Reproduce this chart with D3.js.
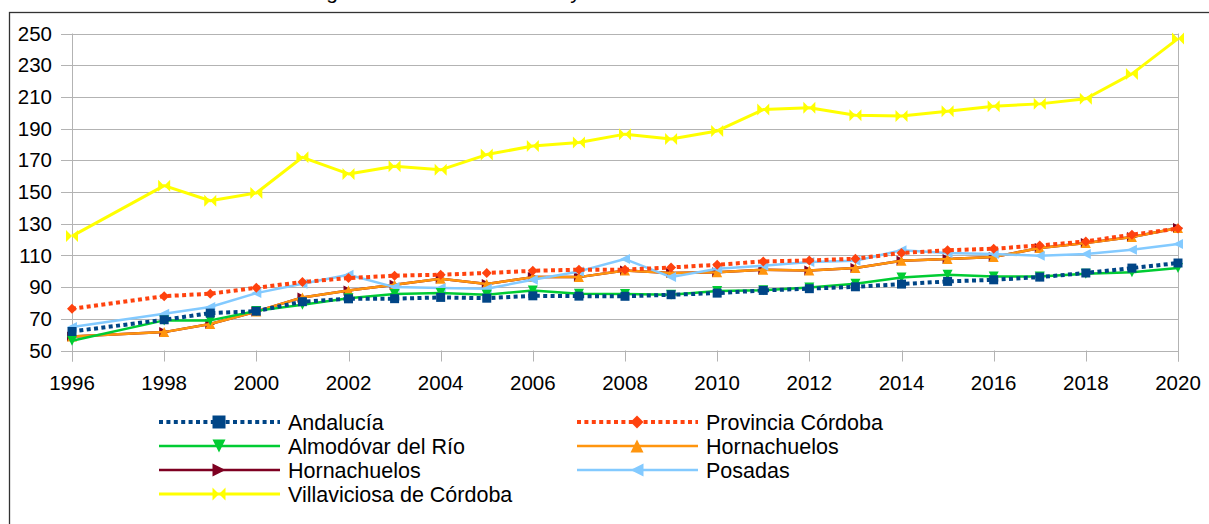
<!DOCTYPE html>
<html>
<head>
<meta charset="utf-8">
<script src="https://cdn.jsdelivr.net/npm/d3@7"></script>
<style>
  body { margin: 0; background: #fff; }
  svg { display: block; font-family: "Liberation Sans", Arial, sans-serif; }
</style>
</head>
<body>
<div id="chart"></div>
<script>
// years with data (1997 missing)
var years = [1996, 1998, 1999, 2000, 2001, 2002, 2003, 2004, 2005, 2006, 2007, 2008,
             2009, 2010, 2011, 2012, 2013, 2014, 2015, 2016, 2017, 2018, 2019, 2020];

var andalucia    = [62, 69.4, 73.6, 74.8, 80.8, 82.6, 82.7, 83.5, 83, 84.5, 84.3, 84.2,
                    85.2, 86.2, 87.9, 89, 90.2, 91.9, 93.6, 94.6, 96.3, 98.9, 102, 105.2];
var provincia    = [76.3, 84.3, 85.8, 89.6, 93.2, 95.7, 97.2, 97.8, 98.9, 100.3, 101, 101,
                    102.4, 104.1, 106.2, 106.8, 107.9, 111.5, 113.2, 114.2, 116.3, 118.8, 123.1, 126.9];
var almodovar    = [56.1, 69, 69, 75, 78.9, 83, 85.6, 86.2, 85.2, 87.9, 85.8, 85.6,
                    85.2, 87.5, 88, 89.8, 92.1, 96.1, 97.8, 96.7, 96.7, 98.4, 99.3, 102];
var hornachuelos = [58.8, 61.6, 66.7, 74.6, 83.5, 87.9, 91.5, 95.3, 91.9, 96.3, 96.3, 100.5,
                    98.9, 99.3, 101, 100.5, 102, 106.6, 107.7, 109, 114.7, 117.8, 121.6, 127.3];
var posadas      = [64.8, 73.2, 77.4, 86.2, 92.1, 97.8, 90, 89.4, 89, 94.6, 99.9, 107.7,
                    96.3, 101.6, 103.5, 105.8, 106.6, 113.2, 111.5, 110.9, 109.8, 110.9, 113.6, 117.2];
var villaviciosa = [122.2, 154, 144.5, 149.4, 171.9, 161.4, 166.2, 164, 173.6, 179, 181.2, 186.5,
                    183.4, 188.5, 202, 203.1, 198.4, 198, 200.9, 204.1, 205.6, 208.8, 224.5, 246.8];

var yTicks = [50, 70, 90, 110, 130, 150, 170, 190, 210, 230, 250];
var xTicks = [1996, 1998, 2000, 2002, 2004, 2006, 2008, 2010, 2012, 2014, 2016, 2018, 2020];

var width = 1209, height = 524;
var fontSize = 20.5;

// marker shapes
var shapes = {
  square:   function(s) { return "M" + (-s) + "," + (-s) + "H" + s + "V" + s + "H" + (-s) + "Z"; },
  diamond:  function(s) { return "M0," + (-s) + "L" + s + ",0L0," + s + "L" + (-s) + ",0Z"; },
  down:     function(s) { return "M" + (-s) + "," + (-s) + "H" + s + "L0," + s + "Z"; },
  up:       function(s) { return "M" + (-s) + "," + s + "H" + s + "L0," + (-s) + "Z"; },
  right:    function(s) { return "M" + (-s) + "," + (-s) + "V" + s + "L" + s + ",0Z"; },
  left:     function(s) { return "M" + s + "," + (-s) + "V" + s + "L" + (-s) + ",0Z"; },
  bowtie:   function(s) { return "M" + (-s) + "," + (-s) + "L" + s + "," + s + "V" + (-s) + "L" + (-s) + "," + s + "Z"; }
};

var series = [
  { name: "Andalucía",              values: andalucia,    color: "#004586", dash: "4 3.4", width: 4,   shape: "square"  },
  { name: "Provincia Córdoba",      values: provincia,    color: "#ff420e", dash: "4 3.4", width: 4,   shape: "diamond" },
  { name: "Almodóvar del Río",      values: almodovar,    color: "#00cc33", dash: null,    width: 2.5, shape: "down"    },
  { name: "Hornachuelos",           values: hornachuelos, color: "#ff950e", dash: null,    width: 2.5, shape: "up"      },
  { name: "Hornachuelos",           values: hornachuelos, color: "#7e0021", dash: null,    width: 2.5, shape: "right"   },
  { name: "Posadas",                values: posadas,      color: "#83caff", dash: null,    width: 2.5, shape: "left"    },
  { name: "Villaviciosa de Córdoba", values: villaviciosa, color: "#ffff00", dash: null,    width: 3,   shape: "bowtie"  }
];

// order in which the lines are painted (last on top)
var drawOrder = [4, 3, 5, 2, 0, 1, 6];

var svg = d3.select("#chart").append("svg")
  .attr("width", width)
  .attr("height", height);

// title, cut off by the top of the picture (only descenders show)
svg.append("text")
  .attr("x", 150)
  .attr("y", -1)
  .attr("font-size", 21)
  .attr("fill", "#000")
  .text("Evolución de la longevidad en Hornachuelos y entorno");

// outer frame
svg.append("rect")
  .attr("x", 9.5).attr("y", 12.5)
  .attr("width", 1400).attr("height", 700)
  .attr("fill", "none")
  .attr("stroke", "#333")
  .attr("stroke-width", 1.3);

var x = d3.scaleLinear().domain([1996, 2020]).range([72, 1178]);
var y = d3.scaleLinear().domain([50, 250]).range([350.5, 33.5]);

// horizontal grid
svg.append("g")
  .selectAll("line")
  .data(yTicks)
  .join("line")
  .attr("x1", 61).attr("x2", x(2020))
  .attr("y1", function(d) { return Math.round(y(d)) + 0.5; })
  .attr("y2", function(d) { return Math.round(y(d)) + 0.5; })
  .attr("stroke", "#b3b3b3")
  .attr("stroke-width", 1);

// vertical frame lines of the plot area
svg.append("g")
  .selectAll("line")
  .data([1996, 2020])
  .join("line")
  .attr("x1", function(d) { return Math.round(x(d)) + 0.5; })
  .attr("x2", function(d) { return Math.round(x(d)) + 0.5; })
  .attr("y1", y(250))
  .attr("y2", y(50) + 11)
  .attr("stroke", "#b3b3b3");

// y labels
svg.append("g")
  .selectAll("text")
  .data(yTicks)
  .join("text")
  .attr("x", 52)
  .attr("y", function(d) { return y(d); })
  .attr("dy", "0.35em")
  .attr("text-anchor", "end")
  .attr("font-size", fontSize)
  .attr("fill", "#000")
  .text(function(d) { return d; });

// x ticks + labels
var xg = svg.append("g");
xg.selectAll("line")
  .data(xTicks)
  .join("line")
  .attr("x1", function(d) { return Math.round(x(d)) + 0.5; })
  .attr("x2", function(d) { return Math.round(x(d)) + 0.5; })
  .attr("y1", y(50))
  .attr("y2", y(50) + 11)
  .attr("stroke", "#b3b3b3");
xg.selectAll("text")
  .data(xTicks)
  .join("text")
  .attr("x", function(d) { return x(d); })
  .attr("y", 390)
  .attr("text-anchor", "middle")
  .attr("font-size", fontSize)
  .attr("fill", "#000")
  .text(function(d) { return d; });

var line = d3.line()
  .x(function(d, i) { return x(years[i]); })
  .y(function(d) { return y(d); });

var plot = svg.append("g");
drawOrder.forEach(function(k) {
  var s = series[k];
  plot.append("path")
    .datum(s.values)
    .attr("fill", "none")
    .attr("stroke", s.color)
    .attr("stroke-width", s.width)
    .attr("stroke-dasharray", s.dash)
    .attr("stroke-linejoin", "round")
    .attr("d", line);
  plot.append("g")
    .selectAll("path")
    .data(s.values)
    .join("path")
    .attr("transform", function(d, i) { return "translate(" + x(years[i]) + "," + y(d) + ")"; })
    .attr("d", shapes[s.shape](s.shape == "square" ? 4.5 : (s.shape == "bowtie" ? 6 : 5)))
    .attr("fill", s.color);
});

// legend, two columns
var legend = svg.append("g");
series.forEach(function(s, i) {
  var col = i % 2, row = Math.floor(i / 2);
  var lx = col == 0 ? 159 : 577;
  var ly = 422 + row * 24;
  var g = legend.append("g").attr("transform", "translate(" + lx + "," + ly + ")");
  g.append("line")
    .attr("x1", 0).attr("x2", 121)
    .attr("y1", 0).attr("y2", 0)
    .attr("stroke", s.color)
    .attr("stroke-width", s.width)
    .attr("stroke-dasharray", s.dash);
  g.append("path")
    .attr("transform", "translate(60,0)")
    .attr("d", shapes[s.shape](6.5))
    .attr("fill", s.color);
  g.append("text")
    .attr("x", 129)
    .attr("y", 0)
    .attr("dy", "0.35em")
    .attr("font-size", 21.5)
    .attr("fill", "#000")
    .text(s.name);
});
</script>
</body>
</html>
